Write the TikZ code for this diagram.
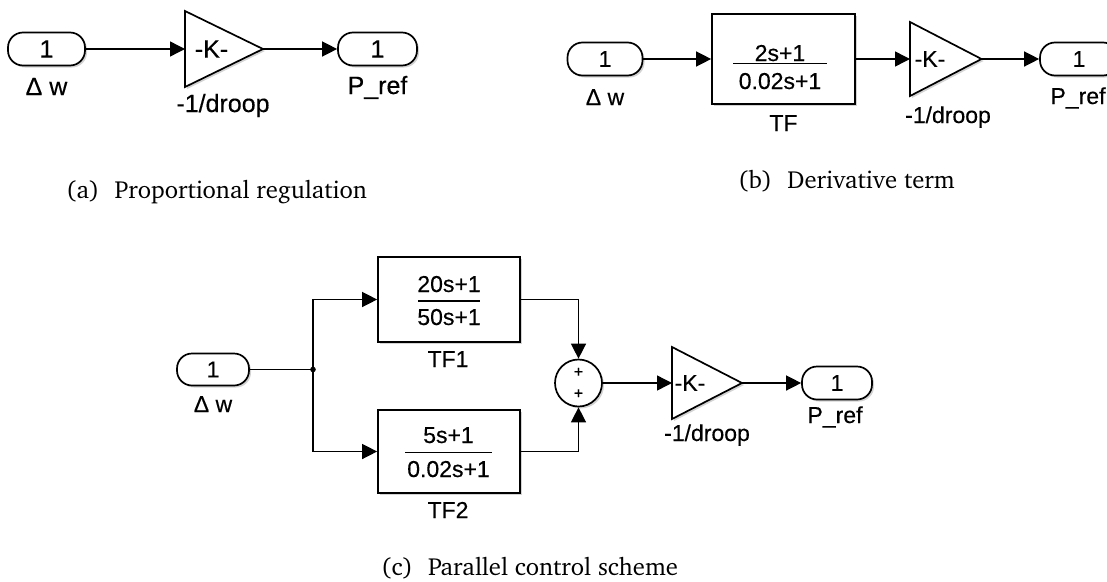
\documentclass[tikz,border=0pt]{standalone}
\usepackage[T1]{fontenc}
\usepackage{fontspec}
\setmainfont{Liberation Sans}[FakeBold=0.35]
\usetikzlibrary{arrows.meta,shadows}
\newcommand\mycapfont{\fontencoding{T1}\fontfamily{bch}\selectfont}
\tikzset{
  blk/.style={draw=black, line width=1.7pt, fill=white,
    drop shadow={shadow xshift=2pt, shadow yshift=-2pt, opacity=0.35}},
  port/.style={blk, rounded corners=15pt, inner sep=0pt},
  tfbox/.style={blk, inner sep=0pt},
  sumblk/.style={blk, circle, inner sep=0pt, minimum size=47pt},
  conn/.style={line width=1.4pt, -{Triangle[length=15pt,width=15pt]}},
  wire/.style={line width=1.4pt},
  fbar/.style={line width=1.3pt},
  fa/.style={font=\fontsize{25}{30}\selectfont},
  fb/.style={font=\fontsize{23}{28}\selectfont},
  fc/.style={font=\fontsize{23}{28}\selectfont},
  fplus/.style={font=\fontsize{16}{18}\selectfont, inner sep=0pt},
  lbl/.style={inner sep=0pt},
  captxt/.style={inner sep=0pt, anchor=base west, font=\mycapfont\fontsize{24.7}{30}\selectfont},
}
\begin{document}
\begin{tikzpicture}[x=1pt,y=-1pt]
\useasboundingbox (0,0) rectangle (1107,581);

% ---------- (a) ----------
\node[port,fa,minimum width=77pt,minimum height=33pt] (ina) at (46.5,49) {1};
\node[lbl,fa,anchor=base] (ina-l) at (46.5,95) {Δ w};
\draw[blk] (185,11) -- (263,49) -- (185,87) -- cycle;
\coordinate (gaina-in) at (185,49);
\coordinate (gaina-out) at (263,49);
\node[lbl,fa] (gaina-k) at (211.5,49) {-K-};
\node[lbl,fa,anchor=base] (gaina-l) at (223,112) {-1/droop};
\node[port,fa,minimum width=79pt,minimum height=33pt] (outa) at (377.5,49) {1};
\node[lbl,fa,anchor=base] (outa-l) at (377.5,94) {P\_ref};
\draw[conn] (ina.east) -- (gaina-in);
\draw[conn] (gaina-out) -- (outa.west);
\node[captxt] (cap-a) at (66,198) {(a)\hspace{0.62em}Proportional regulation};

% ---------- (b) ----------
\node[port,fb,minimum width=75pt,minimum height=33pt] (inb) at (605,59) {1};
\node[lbl,fb,anchor=base] (inb-l) at (605,105) {Δ w};
\node[tfbox,minimum width=143pt,minimum height=90pt] (tf) at (783.5,59) {};
\node[lbl,fb,anchor=base] (tf-num) at (780,61) {2s+1};
\draw[fbar] (733,63.5) -- (827,63.5);
\node[lbl,fb,anchor=base] (tf-den) at (780,89) {0.02s+1};
\node[lbl,fb,anchor=base] (tf-l) at (783.5,131) {TF};
\draw[blk] (910,22) -- (981.5,59) -- (910,96) -- cycle;
\coordinate (gainb-in) at (910,59);
\coordinate (gainb-out) at (981.5,59);
\node[lbl,fb] (gainb-k) at (930,59) {-K-};
\node[lbl,fb,anchor=base] (gainb-l) at (948,123) {-1/droop};
\node[port,fb,minimum width=78pt,minimum height=33pt] (outb) at (1079,59) {1};
\node[lbl,fb,anchor=base] (outb-l) at (1078,104) {P\_ref};
\draw[conn] (inb.east) -- (tf.west);
\draw[conn] (tf.east) -- (gainb-in);
\draw[conn] (gainb-out) -- (outb.west);
\node[captxt] (cap-b) at (738,188) {(b)\hspace{0.62em}Derivative term};

% ---------- (c) ----------
\node[port,fc,minimum width=72pt,minimum height=32pt] (inc) at (213,369.5) {1};
\node[lbl,fc,anchor=base] (inc-l) at (213,412) {Δ w};
\coordinate (j) at (313,369.5);
\node[tfbox,minimum width=142pt,minimum height=85pt] (tf1) at (449,299.5) {};
\node[lbl,fc,anchor=base] (tf1-num) at (449,292) {20s+1};
\draw[fbar] (418,301) -- (480,301);
\node[lbl,fc,anchor=base] (tf1-den) at (449,325) {50s+1};
\node[lbl,fc,anchor=base] (tf1-l) at (448,367) {TF1};
\node[tfbox,minimum width=142pt,minimum height=83pt] (tf2) at (449,451.5) {};
\node[lbl,fc,anchor=base] (tf2-num) at (448.5,443) {5s+1};
\draw[fbar] (405,452.3) -- (492,452.3);
\node[lbl,fc,anchor=base] (tf2-den) at (448.5,477) {0.02s+1};
\node[lbl,fc,anchor=base] (tf2-l) at (448,518) {TF2};
\node[sumblk] (sum) at (578.5,383) {};
\node[fplus] (sum-p1) at (578.5,372.5) {+};
\node[fplus] (sum-p2) at (578.5,394) {+};
\draw[blk] (672,347) -- (742,383) -- (672,419) -- cycle;
\coordinate (gainc-in) at (672,383);
\coordinate (gainc-out) at (742,383);
\node[lbl,fc] (gainc-k) at (690,383) {-K-};
\node[lbl,fc,anchor=base] (gainc-l) at (707,441) {-1/droop};
\node[port,fc,minimum width=70pt,minimum height=33pt] (outc) at (837,383) {1};
\node[lbl,fc,anchor=base] (outc-l) at (835,423) {P\_ref};
\draw[wire] (inc.east) -- (j);
\fill (j) circle (2.8pt);
\draw[conn] (j) |- (tf1.west);
\draw[conn] (j) |- (tf2.west);
\draw[conn] (tf1.east) -| (sum.north);
\draw[conn] (tf2.east) -| (sum.south);
\draw[conn] (sum.east) -- (gainc-in);
\draw[conn] (gainc-out) -- (outc.west);
\node[captxt] (cap-c) at (381,575) {(c)\hspace{0.62em}Parallel control scheme};
\end{tikzpicture}
\end{document}
